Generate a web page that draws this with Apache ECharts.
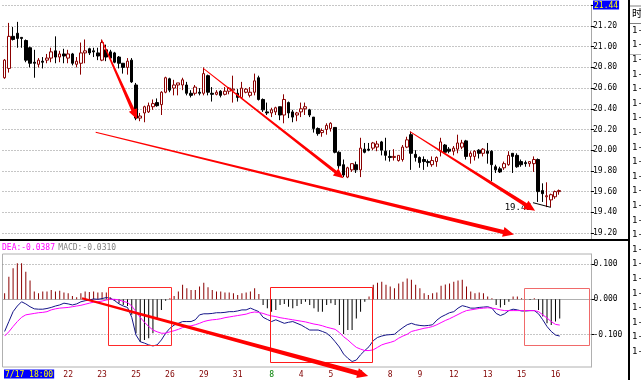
<!DOCTYPE html>
<html><head><meta charset="utf-8">
<script src="https://cdn.jsdelivr.net/npm/echarts@6/dist/echarts.min.js"></script>
<style>html,body{margin:0;padding:0;background:#fff}#c{width:641px;height:380px}</style>
</head><body><div id="c"></div>
<script>
// ---------- DATA ----------
const candleOpen = [20.70,20.79,21.10,21.13,21.09,21.06,20.99,20.85,20.83,20.86,
20.87,20.89,20.96,20.90,20.93,20.89,20.93,20.83,20.84,20.94,
20.98,20.96,20.94,20.87,20.97,20.95,20.94,20.90,20.84,20.80,
20.87,20.63,20.31,20.36,20.37,20.42,20.46,20.44,20.56,20.69,
20.60,20.63,20.63,20.63,20.55,20.55,20.56,20.55,20.72,20.55,
20.54,20.57,20.54,20.57,20.58,20.55,20.51,20.56,20.53,20.56,
20.70,20.49,20.37,20.36,20.37,20.42,20.34,20.46,20.37,20.34,
20.37,20.40,20.39,20.32,20.21,20.17,20.20,20.21,20.22,19.98,
19.86,19.74,19.81,19.86,19.81,20.01,20.01,20.02,20.03,20.08,
19.99,19.94,19.93,19.90,19.91,20.03,20.15,19.96,19.93,19.91,
19.89,19.86,19.89,19.99,20.05,20.01,19.99,20.01,20.03,20.09,
19.94,19.94,20.00,19.97,19.99,19.99,19.84,19.82,19.83,19.86,
19.97,19.95,19.89,19.88,19.87,19.87,19.91,19.61,19.55,19.52,
19.55,19.60];
const candleClose = [20.87,21.10,21.07,21.08,21.08,20.87,20.84,20.84,20.87,20.85,
20.89,20.95,20.90,20.93,20.91,20.93,20.84,20.86,20.94,20.96,
20.94,20.95,20.91,21.04,20.90,20.89,20.85,20.84,20.80,20.86,
20.66,20.31,20.33,20.42,20.43,20.45,20.43,20.56,20.70,20.58,
20.63,20.65,20.68,20.55,20.53,20.61,20.55,20.74,20.56,20.54,
20.56,20.53,20.57,20.60,20.59,20.51,20.60,20.59,20.56,20.67,
20.49,20.39,20.36,20.39,20.41,20.34,20.49,20.36,20.32,20.36,
20.40,20.42,20.34,20.21,20.16,20.19,20.24,20.26,19.98,19.85,
19.76,19.83,19.87,19.81,20.02,19.98,20.00,20.07,20.06,20.00,
19.95,19.93,19.94,19.95,20.03,20.10,19.97,19.93,19.88,19.89,
19.88,19.90,19.93,20.08,19.98,19.99,20.02,20.07,20.07,19.94,
19.97,19.99,19.97,20.01,19.97,19.86,19.81,19.79,19.87,19.95,
19.94,19.84,19.86,19.87,19.89,19.91,19.60,19.58,19.56,19.57,
19.60,19.61];
const candleLow = [20.69,20.75,21.06,20.99,20.99,20.85,20.80,20.70,20.80,20.79,
20.84,20.85,20.84,20.85,20.84,20.84,20.82,20.80,20.73,20.84,
20.92,20.90,20.87,20.86,20.86,20.87,20.84,20.79,20.74,20.73,
20.65,20.29,20.28,20.27,20.36,20.39,20.42,20.34,20.55,20.56,
20.53,20.53,20.58,20.53,20.51,20.53,20.53,20.53,20.53,20.47,
20.53,20.51,20.53,20.54,20.46,20.47,20.50,20.55,20.51,20.53,
20.48,20.37,20.34,20.32,20.34,20.29,20.26,20.31,20.27,20.28,
20.32,20.34,20.32,20.17,20.14,20.13,20.15,20.18,19.97,19.82,
19.74,19.73,19.79,19.78,19.74,19.97,19.99,20.00,19.99,19.95,
19.90,19.89,19.90,19.89,19.89,20.02,19.81,19.89,19.83,19.81,
19.84,19.84,19.84,19.94,19.97,19.97,19.95,19.97,20.01,19.91,
19.87,19.90,19.92,19.94,19.87,19.70,19.78,19.78,19.81,19.85,
19.78,19.83,19.84,19.84,19.84,19.79,19.50,19.50,19.45,19.45,
19.53,19.57];
const candleHigh = [20.88,21.23,21.19,21.24,21.09,21.07,21.00,20.97,20.89,20.90,
20.93,20.99,21.10,20.96,20.98,20.97,20.94,20.90,21.04,21.07,
20.99,20.99,20.99,21.07,21.02,20.97,20.95,20.91,20.84,20.89,
20.89,20.65,20.36,20.43,20.46,20.49,20.50,20.57,20.71,20.70,
20.68,20.65,20.70,20.66,20.58,20.63,20.60,20.80,20.73,20.61,
20.58,20.58,20.61,20.61,20.72,20.59,20.66,20.60,20.61,20.74,
20.72,20.50,20.46,20.41,20.42,20.42,20.54,20.47,20.39,20.37,
20.46,20.46,20.40,20.32,20.22,20.21,20.26,20.27,20.22,19.99,
19.91,19.84,19.87,19.89,20.12,20.07,20.07,20.08,20.09,20.09,
20.12,20.00,20.01,19.95,20.05,20.13,20.18,20.00,19.94,19.94,
19.91,19.94,19.94,20.12,20.06,20.03,20.04,20.15,20.10,20.10,
19.99,20.00,20.01,20.02,20.07,20.00,19.86,19.84,19.89,19.99,
19.97,19.97,19.91,19.90,19.89,19.94,19.92,19.68,19.69,19.58,
19.61,19.62];
const macdHist = [0.017,0.064,0.088,0.102,0.102,0.078,0.053,0.022,0.017,0.022,
0.022,0.026,0.022,0.024,0.019,0.017,0.009,0.006,0.017,0.022,
0.021,0.022,0.019,0.020,0.019,0.005,-0.004,-0.011,-0.016,-0.019,
-0.044,-0.096,-0.121,-0.115,-0.110,-0.096,-0.054,-0.030,-0.004,0.003,
0.009,0.022,0.041,0.031,0.026,0.026,0.036,0.047,0.034,0.026,
0.022,0.022,0.019,0.019,0.017,0.012,0.017,0.019,0.022,0.031,
0.015,-0.016,-0.025,-0.035,-0.030,-0.016,-0.013,-0.021,-0.025,-0.019,
-0.013,-0.007,-0.016,-0.025,-0.035,-0.035,-0.016,-0.011,-0.016,-0.073,
-0.098,-0.087,-0.087,-0.054,-0.035,-0.007,0.008,0.041,0.047,0.050,
0.041,0.036,0.031,0.045,0.050,0.059,0.055,0.041,0.031,0.017,
0.012,0.017,0.019,0.038,0.042,0.045,0.050,0.053,0.055,0.036,
0.022,0.017,0.019,0.017,0.008,0.003,-0.016,-0.023,-0.016,-0.007,
0.008,0.008,0.003,0.001,-0.002,0.003,-0.030,-0.049,-0.068,-0.073,
-0.063,-0.054];
const difLine = [-0.091,-0.063,-0.035,-0.019,-0.007,-0.013,-0.021,-0.027,-0.028,-0.028,
-0.026,-0.023,-0.019,-0.016,-0.011,-0.013,-0.016,-0.013,-0.007,-0.004,
-0.002,0.001,0.000,0.002,0.005,0.003,-0.004,-0.013,-0.019,-0.023,
-0.051,-0.101,-0.120,-0.124,-0.129,-0.132,-0.129,-0.115,-0.096,-0.082,
-0.073,-0.068,-0.063,-0.063,-0.063,-0.058,-0.044,-0.041,-0.041,-0.040,
-0.038,-0.038,-0.037,-0.035,-0.035,-0.033,-0.030,-0.030,-0.025,-0.030,
-0.035,-0.051,-0.057,-0.063,-0.058,-0.063,-0.068,-0.065,-0.063,-0.068,
-0.073,-0.080,-0.087,-0.087,-0.087,-0.091,-0.096,-0.106,-0.120,-0.135,
-0.155,-0.167,-0.176,-0.172,-0.157,-0.145,-0.134,-0.117,-0.108,-0.104,
-0.101,-0.100,-0.099,-0.089,-0.080,-0.072,-0.068,-0.072,-0.074,-0.075,
-0.074,-0.072,-0.059,-0.050,-0.044,-0.038,-0.035,-0.025,-0.018,-0.021,
-0.025,-0.025,-0.023,-0.022,-0.021,-0.025,-0.040,-0.046,-0.041,-0.032,
-0.028,-0.030,-0.033,-0.033,-0.032,-0.032,-0.041,-0.058,-0.077,-0.091,
-0.101,-0.104];
const deaLine = [-0.104,-0.092,-0.077,-0.063,-0.051,-0.044,-0.042,-0.040,-0.038,-0.037,
-0.035,-0.030,-0.027,-0.025,-0.024,-0.023,-0.021,-0.019,-0.017,-0.014,
-0.011,-0.008,-0.007,-0.005,-0.002,0.000,0.000,-0.002,-0.006,-0.009,
-0.019,-0.035,-0.051,-0.065,-0.077,-0.087,-0.092,-0.096,-0.096,-0.092,
-0.089,-0.085,-0.080,-0.077,-0.075,-0.072,-0.068,-0.063,-0.060,-0.058,
-0.057,-0.055,-0.052,-0.050,-0.048,-0.046,-0.044,-0.042,-0.038,-0.036,
-0.037,-0.040,-0.044,-0.047,-0.049,-0.052,-0.054,-0.056,-0.058,-0.060,
-0.062,-0.064,-0.067,-0.070,-0.072,-0.075,-0.079,-0.082,-0.085,-0.094,
-0.106,-0.115,-0.126,-0.136,-0.141,-0.145,-0.145,-0.143,-0.136,-0.129,
-0.125,-0.122,-0.118,-0.110,-0.104,-0.099,-0.091,-0.088,-0.085,-0.082,
-0.080,-0.077,-0.072,-0.066,-0.060,-0.055,-0.049,-0.043,-0.037,-0.032,
-0.030,-0.028,-0.026,-0.025,-0.024,-0.025,-0.027,-0.030,-0.032,-0.032,
-0.032,-0.032,-0.032,-0.032,-0.032,-0.032,-0.035,-0.044,-0.053,-0.063,
-0.071,-0.073];
const priceTicks = [19.20,19.40,19.60,19.80,20.00,20.20,20.40,20.60,20.80,21.00,21.20];
const priceTopLabel = '21.44';
const macdTicks = [-0.1, 0, 0.1];
const xTickIndex = [15,23,31,39,47,55,63,70,77,84,91,98,106,114,122,130];
const xTickText  = ['22','23','25','26','29','31','8','4','5','6','8','9','12','13','15','16'];
const monthStartIndex = [63];
const cursorLabel = '7/17 18:00';
const legendDEA = 'DEA:-0.0387';
const legendMACD = 'MACD:-0.0310';
// annotations in data coordinates: [idx0, value0, idx1, value1]
const priceArrows = [[22.93,21.065,31.27,20.30],[46.93,20.79,80.04,19.73],[95.74,20.18,125.3,19.415],[21.51,20.173,120.3,19.185]];
const macdArrows = [[18.28,0.003,85.8,-0.217]];
const macdBoxes = [[24.49,0.034,39.46,-0.131],[62.68,0.034,86.7,-0.178],[122.67,0.031,138.0,-0.131]];
const lowLine = [124.8,19.493,129.0,19.448];
const lowText = '19.45';
const lowTextAt = [124.5,19.448];
const sideHeader = '时';
const sideRows = ['1-','1-','1-','1-','1-','1-','1-','1-','1-','1-','1-','1-','1-','1-','1-','1-','1-','1-','1-','1-','1-','1-','1-'];

// ---------- CHART ----------
const SLOTS = 139;
const slotIds = [];
for (let i = 0; i < SLOTS; i++) slotIds.push(String(i));
const PRICE_MIN = 19.142, PRICE_MAX = 21.4029;
const MACD_MIN = -0.1916, MACD_MAX = 0.1282;
const FONT = 'DejaVu Sans Mono';
const tickMap = {};
xTickIndex.forEach((ix, k) => tickMap[ix] = xTickText[k]);
const candleData = candleOpen.map((o, i) => [o, candleClose[i], candleLow[i], candleHigh[i]]);
const gridLine = {show: true, lineStyle: {color: '#8c8c8c', type: [1, 2], width: 1}};

const option = {
  animation: false,
  backgroundColor: '#ffffff',
  grid: [
    {left: 2.5, right: 50, top: 5, height: 234, outerBoundsMode: 'none', containLabel: false},
    {left: 2.5, right: 49.5, top: 254, height: 113, outerBoundsMode: 'none', containLabel: false,
     show: true, borderColor: '#b0b0b0', borderWidth: 1, backgroundColor: 'transparent'}
  ],
  xAxis: [
    {type: 'category', gridIndex: 0, data: slotIds, boundaryGap: true,
     axisLine: {show: false}, axisTick: {show: false}, axisLabel: {show: false}, splitLine: {show: false}},
    {type: 'category', gridIndex: 1, data: slotIds, boundaryGap: true,
     axisLine: {show: true, lineStyle: {color: '#b0b0b0'}}, axisTick: {show: false}, splitLine: {show: false},
     axisLabel: {
       interval: (i) => tickMap[i] !== undefined,
       formatter: (v, i) => tickMap[i] !== undefined ? tickMap[i] : '',
       color: (v) => monthStartIndex.indexOf(Number(v)) >= 0 ? '#008000' : '#800000',
       fontFamily: FONT, fontSize: 8, margin: 4, hideOverlap: false
     }}
  ],
  yAxis: [
    {type: 'value', gridIndex: 0, position: 'right', min: PRICE_MIN, max: PRICE_MAX, scale: true,
     axisLine: {show: true, lineStyle: {color: '#a8a8a8'}},
     axisTick: {show: true, inside: false, length: 3, lineStyle: {color: '#000'}, customValues: priceTicks.concat([PRICE_MAX])},
     axisLabel: {customValues: priceTicks.concat([PRICE_MAX]), margin: 2, color: '#000', fontFamily: FONT, fontSize: 8, hideOverlap: false,
       formatter: (v) => Math.abs(v - PRICE_MAX) < 1e-6 ? '{hl|' + priceTopLabel + '}' : v.toFixed(2),
       rich: {hl: {backgroundColor: '#0000ff', color: '#ffff00', fontFamily: FONT, fontSize: 8, padding: [1, 1, 0, 1]}}},
     splitLine: gridLine},
    {type: 'value', gridIndex: 1, position: 'right', min: MACD_MIN, max: MACD_MAX, scale: true,
     axisLine: {show: true, lineStyle: {color: '#b0b0b0'}},
     axisTick: {show: true, inside: false, length: 3, lineStyle: {color: '#000'}, customValues: macdTicks},
     axisLabel: {customValues: macdTicks, margin: 2, color: '#000', fontFamily: FONT, fontSize: 8, hideOverlap: false,
       formatter: (v) => Number(v).toFixed(3)},
     splitLine: gridLine}
  ],
  series: [
    {type: 'candlestick', xAxisIndex: 0, yAxisIndex: 0, data: candleData, barWidth: 3,
     itemStyle: {color: '#ffffff', color0: '#000000', borderColor: '#8b0000', borderColor0: '#000000', borderWidth: 1}},
    {type: 'bar', xAxisIndex: 1, yAxisIndex: 1, data: macdHist, barWidth: 1,
     itemStyle: {color: (p) => p.value >= 0 ? '#8b0000' : '#000000'}},
    {type: 'line', xAxisIndex: 1, yAxisIndex: 1, data: difLine, showSymbol: false, symbol: 'none',
     lineStyle: {color: '#141488', width: 1}},
    {type: 'line', xAxisIndex: 1, yAxisIndex: 1, data: deaLine, showSymbol: false, symbol: 'none',
     lineStyle: {color: '#ff00ff', width: 1}}
  ]
};

const chart = echarts.init(document.getElementById('c'), null, {renderer: 'canvas'});
chart.setOption(option);

function toPx(grid, idx, val) {
  const i0 = Math.floor(idx), f = idx - i0;
  const a = chart.convertToPixel({gridIndex: grid}, [i0, val]);
  const b = chart.convertToPixel({gridIndex: grid}, [i0 + 1, val]);
  return [a[0] + (b[0] - a[0]) * f, a[1]];
}
function arrowPoly(S, E, w0, w1, hl, hw) {
  const dx = E[0] - S[0], dy = E[1] - S[1], L = Math.hypot(dx, dy);
  const ux = dx / L, uy = dy / L, nx = -uy, ny = ux;
  const B = [E[0] - ux * hl, E[1] - uy * hl];
  return [
    [S[0] + nx * w0, S[1] + ny * w0], [B[0] + nx * w1, B[1] + ny * w1], [B[0] + nx * hw, B[1] + ny * hw],
    E, [B[0] - nx * hw, B[1] - ny * hw], [B[0] - nx * w1, B[1] - ny * w1], [S[0] - nx * w0, S[1] - ny * w0]
  ];
}
const g = [];
// panel separator
g.push({type: 'line', shape: {x1: 0, y1: 240, x2: 629, y2: 240}, style: {stroke: '#000', lineWidth: 2}, z: 50});
// side strip
g.push({type: 'line', shape: {x1: 629, y1: 0, x2: 629, y2: 380}, style: {stroke: '#000', lineWidth: 2}, z: 50});
g.push({type: 'line', shape: {x1: 630, y1: 6, x2: 641, y2: 6}, style: {stroke: '#808080', lineWidth: 1}, z: 50});
g.push({type: 'line', shape: {x1: 630, y1: 23.5, x2: 641, y2: 23.5}, style: {stroke: '#808080', lineWidth: 1}, z: 50});
g.push({type: 'line', shape: {x1: 630, y1: 54.5, x2: 641, y2: 54.5}, style: {stroke: '#b0b0b0', lineWidth: 1}, z: 50});
g.push({type: 'text', x: 632, y: 8, style: {text: sideHeader, fill: '#000', font: '10px "Noto Sans CJK SC"'}, z: 50});
sideRows.forEach((t, k) => {
  g.push({type: 'text', x: 632, y: 26 + k * 14.6, style: {text: t, fill: '#000', font: '9px ' + FONT}, z: 50});
});
// MACD legend
g.push({type: 'text', x: 2, y: 241.5, z: 50, style: {
  text: '{a|' + legendDEA + '} {b|' + legendMACD + '}',
  rich: {a: {fill: '#ff00ff', font: '8px ' + FONT}, b: {fill: '#808080', font: '8px ' + FONT}}}});
// cursor label
const c0 = toPx(1, 0, MACD_MIN);
g.push({type: 'text', x: c0[0] - 0.6, y: 369.5, z: 60, style: {text: cursorLabel, fill: '#ffff00', backgroundColor: '#0000ff',
  padding: [1, 1, 0, 1], font: '8px ' + FONT}});
// boxes in MACD
const boxColors = ['#ff2a2a', '#ff1a1a', '#f06a6a'];
macdBoxes.forEach((b, k) => {
  const p0 = toPx(1, b[0], b[1]), p1 = toPx(1, b[2], b[3]);
  g.push({type: 'rect', z: 70, shape: {x: Math.round(p0[0]) + 0.5, y: Math.round(p0[1]) + 0.5,
    width: Math.round(p1[0] - p0[0]), height: Math.round(p1[1] - p0[1])},
    style: {fill: 'none', stroke: boxColors[k], lineWidth: 1}});
});
// low marker line + label
const l0 = toPx(0, lowLine[0], lowLine[1]), l1 = toPx(0, lowLine[2], lowLine[3]);
g.push({type: 'line', z: 70, shape: {x1: l0[0], y1: l0[1], x2: l1[0], y2: l1[1]}, style: {stroke: '#000', lineWidth: 1}});
const lt = toPx(0, lowTextAt[0], lowTextAt[1]);
g.push({type: 'text', z: 70, x: lt[0], y: lt[1], style: {text: lowText, fill: '#000', font: '9px ' + FONT,
  align: 'right', verticalAlign: 'middle'}});
// red arrows
const arrowStyle = [[0.5, 1.8, 10, 4.5], [0.4, 1.6, 10, 4.5], [0.5, 2.0, 11, 5], [0.5, 2.0, 11, 5]];
priceArrows.forEach((a, k) => {
  const S = toPx(0, a[0], a[1]), E = toPx(0, a[2], a[3]);
  const s = arrowStyle[k];
  g.push({type: 'polygon', z: 80, shape: {points: arrowPoly(S, E, s[0], s[1], s[2], s[3])}, style: {fill: '#ff0000'}});
});
macdArrows.forEach((a) => {
  const S = toPx(1, a[0], a[1]), E = toPx(1, a[2], a[3]);
  g.push({type: 'polygon', z: 80, shape: {points: arrowPoly(S, E, 1.0, 2.4, 11, 5)}, style: {fill: '#ff0000'}});
});
chart.setOption({graphic: g});
</script>
</body></html>
